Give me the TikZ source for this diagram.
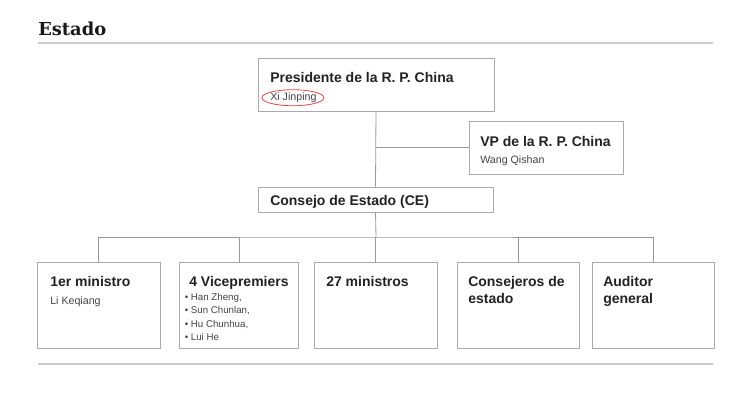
\documentclass[tikz,border=0pt]{standalone}
\usepackage{fontspec}
\setmainfont{Liberation Sans}
\newfontfamily\titlefont{DejaVu Serif}
\usetikzlibrary{calc,shadows}
\definecolor{rulegray}{HTML}{CCCCCC}
\definecolor{boxline}{HTML}{AAAAAA}
\definecolor{conn}{HTML}{999999}
\definecolor{headtxt}{HTML}{222222}
\definecolor{nametxt}{HTML}{444444}
\definecolor{ovalred}{HTML}{E04848}
\begin{document}
\begin{tikzpicture}[x=0.75pt,y=-0.75pt,
  box/.style={draw=boxline,line width=0.6pt,fill=white,inner sep=0pt,
    general shadow={fill=black!12,shadow xshift=0.6pt,shadow yshift=-0.8pt}},
  head/.style={anchor=base west,inner sep=0pt,font=\bfseries\fontsize{10.5pt}{12pt}\selectfont,text=headtxt},
  persontxt/.style={anchor=base west,inner sep=0pt,font=\fontsize{8pt}{10pt}\selectfont,text=nametxt},
  bul/.style={anchor=base west,inner sep=0pt,font=\fontsize{7.3pt}{9pt}\selectfont,text=nametxt},
  link/.style={draw=conn,line width=0.6pt},
  hrule/.style={draw=rulegray,line width=1.3pt}]
\useasboundingbox (0,0) rectangle (753,407);
% title and rules
\node[anchor=base west,inner sep=0pt,font=\titlefont\bfseries\fontsize{13.4pt}{15pt}\selectfont,text=black!90] (title) at (38,36) {Estado};
\coordinate (r1a) at (38,43); \coordinate (r1b) at (713,43);
\coordinate (r2a) at (38,364); \coordinate (r2b) at (713,364);
\draw[hrule] (r1a) -- (r1b);
\draw[hrule] (r2a) -- (r2b);
% boxes
\node[box,minimum width=236*0.75pt,minimum height=53*0.75pt] (pres) at (376,84.5) {};
\node[box,minimum width=154*0.75pt,minimum height=53*0.75pt] (vp) at (546,147.5) {};
\node[box,minimum width=235*0.75pt,minimum height=25*0.75pt] (ce) at (375.5,199.5) {};
\node[box,minimum width=123*0.75pt,minimum height=86*0.75pt] (b1) at (98.5,305) {};
\node[box,minimum width=119*0.75pt,minimum height=86*0.75pt] (b2) at (239,305) {};
\node[box,minimum width=123*0.75pt,minimum height=86*0.75pt] (b3) at (375.5,305) {};
\node[box,minimum width=122*0.75pt,minimum height=86*0.75pt] (b4) at (518,305) {};
\node[box,minimum width=122*0.75pt,minimum height=86*0.75pt] (b5) at (653,305) {};
% connectors
\coordinate (bar) at (376,237);
\draw[link] (pres.south) -- (ce.north);
\draw[link] (vp.west) -- (vp.west -| pres.south);
\draw[link] (ce.south) -- (bar);
\draw[link] (b1.north) |- (bar) -| (b5.north);
\draw[link] (b2.north) -- (b2.north |- bar);
\draw[link] (b3.north) -- (b3.north |- bar);
\draw[link] (b4.north) -- (b4.north |- bar);
% texts
\node[head] (t-pres) at (270,82) {Presidente de la R. P. China};
\node[persontxt] (n-pres) at (270,100.5) {Xi Jinping};
\draw[ovalred,line width=0.6pt] (n-pres.center) ++(-0.5,0) ellipse [x radius=31,y radius=8];
\node[head] (t-vp) at (480,146) {VP de la R. P. China};
\node[persontxt] (n-vp) at (480,163) {Wang Qishan};
\node[head] (t-ce) at (270,205) {Consejo de Estado (CE)};
\node[head] (t-b1) at (50,286) {1er ministro};
\node[persontxt] (n-b1) at (50,304) {Li Keqiang};
\node[head] (t-b2) at (189,286) {4 Vicepremiers};
\node[bul] (l1) at (184.5,300) {• Han Zheng,};
\node[bul] (l2) at (184.5,313.5) {• Sun Chunlan,};
\node[bul] (l3) at (184.5,327) {• Hu Chunhua,};
\node[bul] (l4) at (184.5,340.5) {• Lui He};
\node[head] (t-b3) at (326,286) {27 ministros};
\node[head] (t-b4a) at (468,286) {Consejeros de};
\node[head] (t-b4b) at (468,303) {estado};
\node[head] (t-b5a) at (603,286) {Auditor};
\node[head] (t-b5b) at (603,303) {general};
\end{tikzpicture}
\end{document}
